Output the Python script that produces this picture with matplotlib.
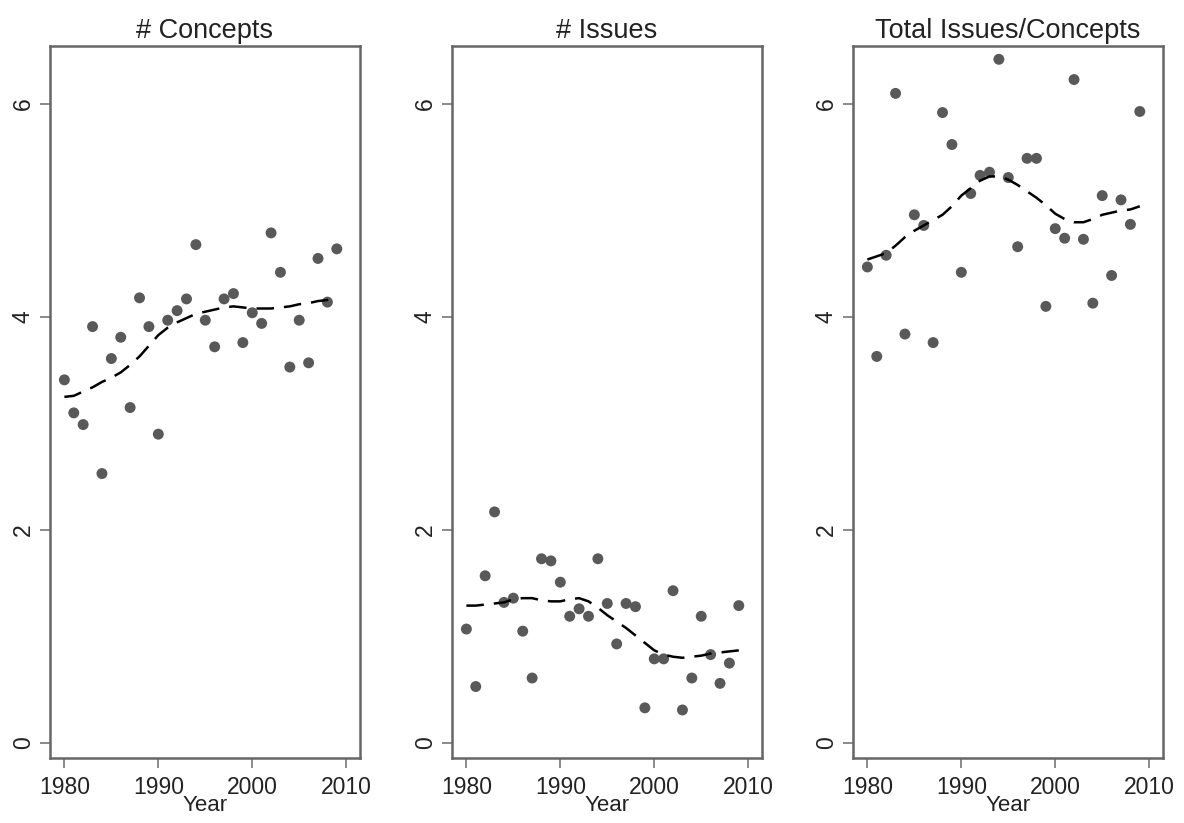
import matplotlib
matplotlib.use("Agg")
import matplotlib.pyplot as plt

plt.rcParams["font.family"] = ["Liberation Sans", "DejaVu Sans"]

years = list(range(1980, 2010))

concepts = [3.41, 3.10, 2.99, 3.91, 2.53, 3.61, 3.81, 3.15, 4.18, 3.91,
            2.90, 3.97, 4.06, 4.17, 4.68, 3.97, 3.72, 4.17, 4.22, 3.76,
            4.04, 3.94, 4.79, 4.42, 3.53, 3.97, 3.57, 4.55, 4.14, 4.64]
concepts_smooth = [3.25, 3.26, 3.30, 3.34, 3.39, 3.43, 3.48, 3.55, 3.63, 3.73,
                   3.83, 3.90, 3.95, 3.99, 4.03, 4.05, 4.07, 4.09, 4.10, 4.09,
                   4.08, 4.08, 4.08, 4.09, 4.10, 4.12, 4.13, 4.15, 4.16, 4.18]

issues = [1.07, 0.53, 1.57, 2.17, 1.32, 1.36, 1.05, 0.61, 1.73, 1.71,
          1.51, 1.19, 1.26, 1.19, 1.73, 1.31, 0.93, 1.31, 1.28, 0.33,
          0.79, 0.79, 1.43, 0.31, 0.61, 1.19, 0.83, 0.56, 0.75, 1.29]
issues_smooth = [1.29, 1.29, 1.30, 1.31, 1.32, 1.35, 1.36, 1.36, 1.34, 1.33,
                 1.33, 1.35, 1.36, 1.33, 1.27, 1.20, 1.14, 1.08, 1.01, 0.94,
                 0.87, 0.83, 0.81, 0.80, 0.81, 0.82, 0.84, 0.85, 0.86, 0.87]

ratio = [4.47, 3.63, 4.58, 6.10, 3.84, 4.96, 4.86, 3.76, 5.92, 5.62,
         4.42, 5.16, 5.33, 5.36, 6.42, 5.31, 4.66, 5.49, 5.49, 4.10,
         4.83, 4.74, 6.23, 4.73, 4.13, 5.14, 4.39, 5.10, 4.87, 5.93]
ratio_smooth = [4.54, 4.57, 4.60, 4.67, 4.75, 4.81, 4.86, 4.91, 4.96, 5.04,
                5.14, 5.21, 5.28, 5.32, 5.32, 5.29, 5.24, 5.18, 5.12, 5.05,
                4.97, 4.92, 4.89, 4.89, 4.92, 4.96, 4.98, 5.00, 5.01, 5.04]

titles = ["# Concepts", "# Issues", "Total Issues/Concepts"]
panels = [(concepts, concepts_smooth), (issues, issues_smooth), (ratio, ratio_smooth)]
lefts = [50, 452, 853]

W, H = 1184, 823
fig = plt.figure(figsize=(W / 100, H / 100), dpi=100)

for left, title, (vals, smooth) in zip(lefts, titles, panels):
    ax = fig.add_axes([left / W, 1 - 758 / H, 310 / W, (758 - 46) / H])
    ax.scatter(years, vals, s=62, color="#595959", edgecolors="none", zorder=2)
    ax.plot(years, smooth, color="black", lw=1.8, dashes=(7, 4), zorder=3)
    ax.set_xlim(1978.47, 2011.47)
    ax.set_ylim(-0.141, 6.545)
    ax.set_xticks([1980, 1990, 2000, 2010])
    ax.set_yticks([0, 2, 4, 6])
    ax.tick_params(axis="both", length=7, width=1.2, color="#777777",
                   labelsize=16.5, labelcolor="#222222")
    ax.tick_params(axis="x", pad=6)
    ax.tick_params(axis="y", pad=4)
    for lab in ax.get_yticklabels():
        lab.set_rotation(90)
        lab.set_va("center")
    for sp in ax.spines.values():
        sp.set_color("#666666")
        sp.set_linewidth(1.8)
    ax.set_title(title, fontsize=19.5, color="#222222", pad=6)
    ax.set_xlabel("Year", fontsize=16, color="#222222", labelpad=-3)

fig.savefig("out.png", dpi=100)
